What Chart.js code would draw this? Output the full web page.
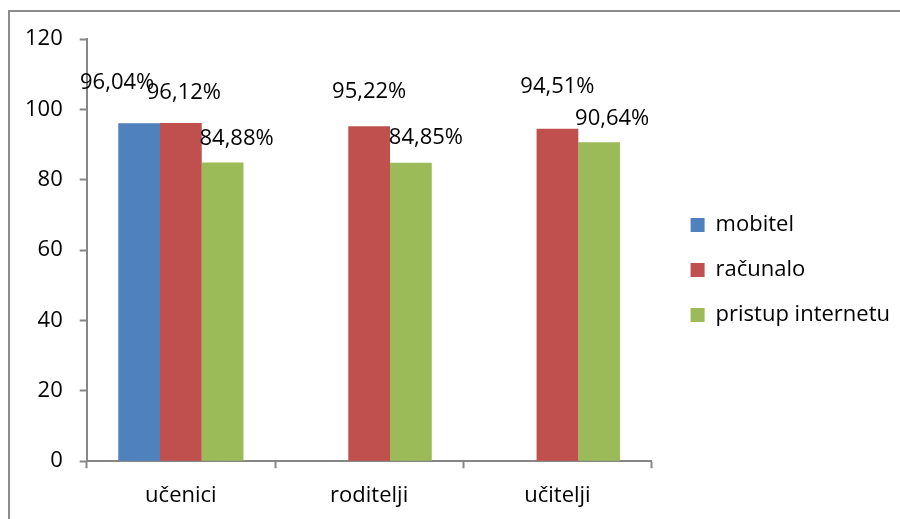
<!DOCTYPE html>
<html>
<head>
<meta charset="utf-8">
<script src="https://cdn.jsdelivr.net/npm/chart.js@4/dist/chart.umd.min.js"></script>
<style>
    html, body { margin: 0; padding: 0; background: #fff; }
    #wrap { width: 900px; height: 519px; }
</style>
</head>
<body>
<div id="wrap"><canvas id="chart" width="900" height="519"></canvas></div>
<script>
// categories and series
const categories = ['učenici', 'roditelji', 'učitelji'];
const mobitel = [96.04, null, null];
const racunalo = [96.12, 95.22, 94.51];
const pristupInternetu = [84.88, 84.85, 90.64];
const yTicks = [0, 20, 40, 60, 80, 100, 120];

// where each value label sits: [dx from bar centre, dy above bar top]
const labelOffsets = [
    [[-22, 41], null, null],
    [[3, 30], [0, 34], [0, 42]],
    [[14, 24], [15, 25], [13, 24]]
];

const FONT = "'Open Sans', sans-serif";
const FONT_SIZE = 22;
const AXIS_GREY = '#868686';

// value labels drawn above the bars, Excel style "96,04%"
const valueLabels = {
    id: 'valueLabels',
    afterDatasetsDraw(chart) {
        const ctx = chart.ctx;
        ctx.save();
        ctx.font = FONT_SIZE + 'px ' + FONT;
        ctx.fillStyle = '#000';
        ctx.textAlign = 'center';
        ctx.textBaseline = 'middle';
        chart.data.datasets.forEach((ds, i) => {
            chart.getDatasetMeta(i).data.forEach((bar, j) => {
                const v = ds.data[j];
                if (v === null) return;
                const off = labelOffsets[i][j] || [0, 20];
                ctx.fillText(v.toFixed(2).replace('.', ',') + '%', bar.x + off[0], bar.y - off[1]);
            });
        });
        ctx.restore();
    }
};

// grey frame round the whole chart
const frame = {
    id: 'frame',
    beforeDraw(chart) {
        const ctx = chart.ctx;
        ctx.save();
        ctx.strokeStyle = '#8c8c8c';
        ctx.lineWidth = 2;
        ctx.strokeRect(9, 11, chart.width + 10, chart.height + 10);
        ctx.restore();
    }
};

const bar = (label, data, color) => ({
    label: label,
    data: data,
    backgroundColor: color,
    borderWidth: 0,
    categoryPercentage: 0.665,
    barPercentage: 1.0
});

new Chart(document.getElementById('chart').getContext('2d'), {
    type: 'bar',
    data: {
        labels: categories,
        datasets: [
            bar('mobitel', mobitel, '#4F81BD'),
            bar('računalo', racunalo, '#C0504D'),
            bar('pristup internetu', pristupInternetu, '#9BBB59')
        ]
    },
    options: {
        responsive: false,
        animation: false,
        layout: {
            padding: { left: 8, top: 39, bottom: -5, right: 0 }
        },
        plugins: {
            tooltip: { enabled: false },
            legend: {
                position: 'right',
                align: 'start',
                maxWidth: 300,
                // empty title only pushes the entries down to the middle
                title: {
                    display: true,
                    text: '',
                    font: { size: 12, lineHeight: 1 },
                    padding: { top: 0, bottom: 140 }
                },
                labels: {
                    boxWidth: 14,
                    boxHeight: 14,
                    padding: 23,
                    color: '#000',
                    font: { family: FONT, size: FONT_SIZE }
                }
            }
        },
        scales: {
            x: {
                grid: {
                    drawOnChartArea: false,
                    offset: true,
                    tickLength: 7,
                    tickWidth: 2,
                    tickColor: AXIS_GREY
                },
                border: { color: AXIS_GREY, width: 2 },
                ticks: {
                    padding: 18,
                    color: '#000',
                    font: { family: FONT, size: FONT_SIZE, lineHeight: 0.9 }
                }
            },
            y: {
                min: 0,
                max: 120,
                afterBuildTicks(axis) {
                    axis.ticks = yTicks.map(v => ({ value: v }));
                },
                grid: {
                    drawOnChartArea: false,
                    tickLength: 7,
                    tickWidth: 2,
                    tickColor: AXIS_GREY
                },
                border: { color: AXIS_GREY, width: 2 },
                ticks: {
                    padding: 17,
                    color: '#000',
                    font: { family: FONT, size: FONT_SIZE }
                }
            },
            // empty spacer between plot and legend
            gap: {
                axis: 'y',
                position: 'right',
                grid: { display: false },
                border: { display: false },
                ticks: { display: false },
                afterFit(scale) { scale.width = 16; }
            }
        }
    },
    plugins: [frame, valueLabels]
});
</script>
</body>
</html>
